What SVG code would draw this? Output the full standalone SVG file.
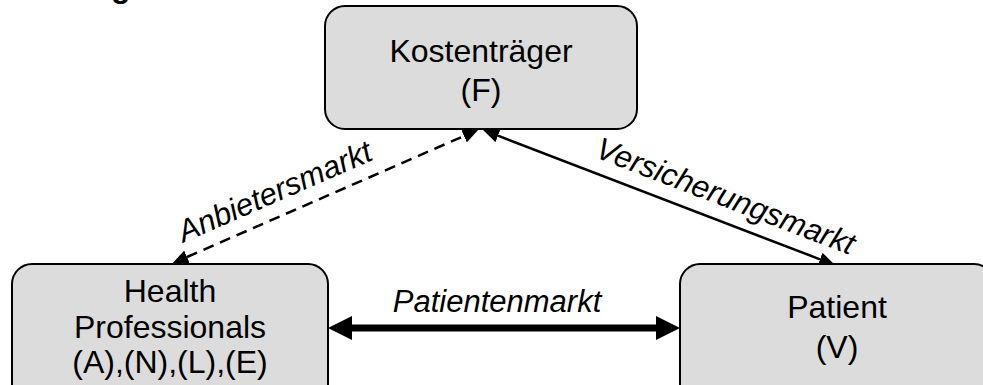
<svg xmlns="http://www.w3.org/2000/svg" width="983" height="385" viewBox="0 0 983 385">
<style>
.box{fill:#dcdcdc;stroke:#000;stroke-width:2}
.t{font-family:"Liberation Sans",Arial,sans-serif;font-size:32px;fill:#000;text-anchor:middle}
.lbl{font-family:"Liberation Sans",Arial,sans-serif;font-size:31px;font-style:italic;fill:#000;text-anchor:middle}
.thin{stroke:#000;stroke-width:2.5;fill:none}
</style>
<defs>
<marker id="ah" markerUnits="userSpaceOnUse" markerWidth="16" markerHeight="14" viewBox="0 0 16 14" refX="0" refY="7" orient="auto-start-reverse">
<path d="M0,0 L16,7 L0,14 z" fill="#000"/>
</marker>
<marker id="ahb" markerUnits="userSpaceOnUse" markerWidth="24" markerHeight="24" viewBox="0 0 24 24" refX="0" refY="12" orient="auto-start-reverse">
<path d="M0,0 L24,12 L0,24 z" fill="#000"/>
</marker>
</defs>
<rect width="983" height="385" fill="#fff"/>
<text x="111" y="-3.5" font-family="Liberation Sans,Arial,sans-serif" font-size="32" font-weight="bold">g</text>
<g id="connectors">
<line class="thin" x1="187" y1="257" x2="464" y2="136" stroke-dasharray="11,7" marker-start="url(#ah)" marker-end="url(#ah)"/>
<line class="thin" x1="498" y1="135.7" x2="820" y2="259.3" marker-start="url(#ah)" marker-end="url(#ah)"/>
<line x1="352" y1="328" x2="656" y2="328" stroke="#000" stroke-width="7" marker-start="url(#ahb)" marker-end="url(#ahb)"/>
<text class="lbl" transform="translate(279,201) rotate(-23.6)">Anbietersmarkt</text>
<text class="lbl" transform="translate(722,206) rotate(21)">Versicherungsmarkt</text>
<text class="lbl" x="497" y="312">Patientenmarkt</text>
</g>
<g id="kostentraeger">
<rect class="box" x="325" y="6" width="312" height="123" rx="20"/>
<text class="t" x="481" y="62">Kostenträger</text>
<text class="t" x="481" y="101">(F)</text>
</g>
<g id="health">
<rect class="box" x="12" y="264" width="316" height="140" rx="20"/>
<text class="t" x="170" y="302">Health</text>
<text class="t" x="170" y="338">Professionals</text>
<text class="t" x="170" y="373">(A),(N),(L),(E)</text>
</g>
<g id="patient">
<rect class="box" x="680" y="264" width="314" height="140" rx="20"/>
<text class="t" x="837" y="318">Patient</text>
<text class="t" x="837" y="358">(V)</text>
</g>
</svg>
